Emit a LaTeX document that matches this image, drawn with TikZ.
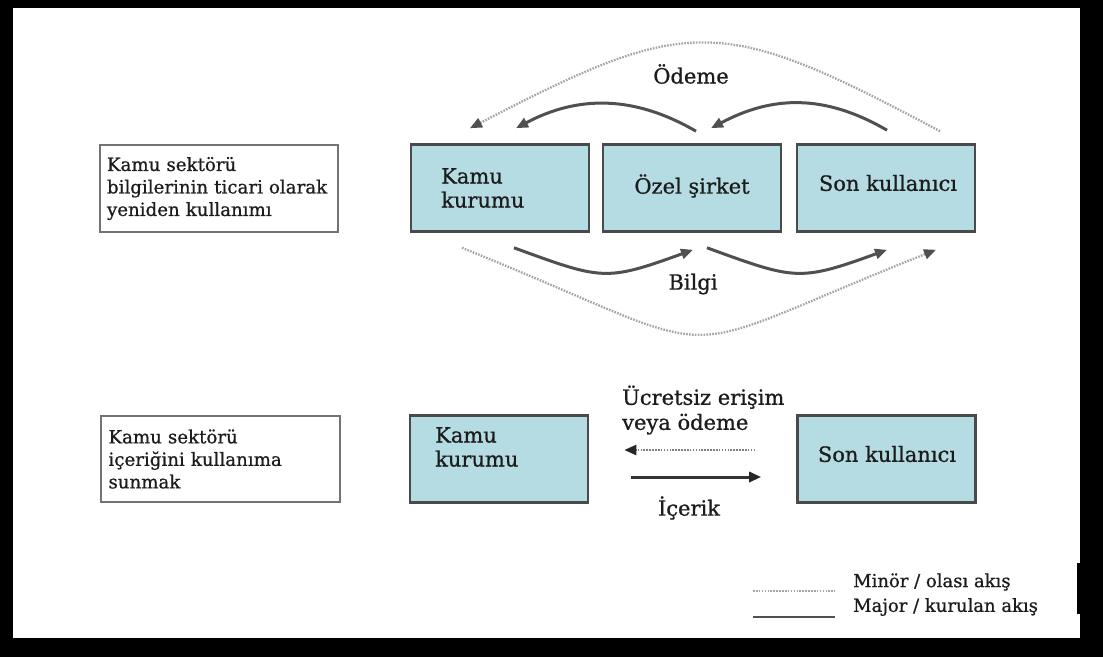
\documentclass[tikz,border=0pt]{standalone}
\usepackage{fontspec}
\setmainfont{DejaVu Serif}[FakeBold=0.8]
\usetikzlibrary{arrows.meta,calc}

\definecolor{boxfill}{HTML}{B5DCE2}
\definecolor{boxline}{HTML}{4A4A4A}
\definecolor{infoline}{HTML}{737373}
\definecolor{major}{HTML}{505050}
\definecolor{minor}{HTML}{A4A4A4}
\definecolor{ink}{HTML}{1C1C1C}

\begin{document}
\begin{tikzpicture}[x=1pt,y=-1pt,
  flowbox/.style={draw=boxline, fill=boxfill, line width=2.6pt,
    minimum width=178pt, minimum height=87pt, inner sep=0pt},
  infobox/.style={draw=infoline, fill=white, line width=2pt, align=left,
    inner xsep=7pt, inner ysep=0pt, text=ink,
    font=\fontsize{18.2}{22.5}\selectfont},
  boxlabel/.style={text=ink, inner sep=0pt, font=\fontsize{21}{24}\selectfont},
  flowlabel/.style={text=ink, inner sep=0pt, font=\fontsize{21}{25}\selectfont},
  legendlabel/.style={text=ink, inner sep=0pt, anchor=west,
    font=\fontsize{18}{22}\selectfont},
  head/.style={-{Triangle[length=12pt,width=10pt,color=#1]}},
  majorflow/.style={draw=major, line width=3pt, head=major},
  minorflow/.style={draw=minor, line width=2.3pt,
    dash pattern=on 1.6pt off 1.3pt, head=major},
  directflow/.style={draw=black!80, line width=3pt, head=black!85},
  optionflow/.style={draw=black!50, line width=2.3pt,
    dash pattern=on 1.6pt off 1.3pt, head=black!85},
  majorline/.style={draw=major, line width=2.5pt},
  minorline/.style={draw=minor, line width=2.2pt, dash pattern=on 1.6pt off 1.3pt}]

\useasboundingbox (0,0) rectangle (1103,657);
% black frame around the sheet
\fill[black] (0,0) rectangle (1103,657);
\fill[white] (13,8) rectangle (1080,638);
\fill[black] (1077,563) rectangle (1080,614);

% ---------- commercial re-use of public sector information ----------
\node[infobox, text width=224pt, minimum height=87pt] (info1) at (219,188.5)
  {Kamu sektörü\\bilgilerinin ticari olarak\\yeniden kullanımı};

\node[flowbox] (k1) at (500,188) {};
\node[flowbox] (oz) at (692,188) {};
\node[flowbox] (s1) at (886,188) {};
\node[boxlabel, anchor=west, align=left] (k1l) at (441,188) {Kamu\\kurumu};
\node[boxlabel] (ozl) at (692,186) {Özel şirket};
\node[boxlabel] (s1l) at (888,183) {Son kullanıcı};

% payment flows (right to left, above the boxes)
\draw[minorflow] ([xshift=54pt,yshift=12pt]s1.north)
  .. controls +(-220,-117) and +(220,-114) .. ([xshift=-30pt,yshift=15pt]k1.north);
\draw[majorflow] ([xshift=1pt,yshift=13pt]s1.north)
  .. controls +(-62,-36) and +(62,-33) .. ([xshift=19pt,yshift=15pt]oz.north);
\draw[majorflow] ([xshift=4pt,yshift=12pt]oz.north)
  .. controls +(-62,-36) and +(62,-33) .. ([xshift=16pt,yshift=15pt]k1.north);
\node[flowlabel] (odeme) at (691,74) {Ödeme};

% information flows (left to right, below the boxes)
\draw[minorflow] ([xshift=-38pt,yshift=-15pt]k1.south)
  .. controls +(285,115) and +(-285,113) .. ([xshift=50pt,yshift=-17pt]s1.south);
\draw[majorflow] ([xshift=14pt,yshift=-15pt]k1.south)
  .. controls +(88,32) and +(-88,32) .. ([xshift=1pt,yshift=-17pt]oz.south);
\draw[majorflow] ([xshift=15pt,yshift=-15pt]oz.south)
  .. controls +(88,32) and +(-88,32) .. ([xshift=1pt,yshift=-17pt]s1.south);
\node[flowlabel] (bilgi) at (693,284) {Bilgi};

% ---------- making public sector content available ----------
\node[infobox, text width=223pt, minimum height=86pt, inner xsep=8pt] (info2) at (220,459)
  {Kamu sektörü\\içeriğini kullanıma\\sunmak};

\node[flowbox] (k2) at (499,459) {};
\node[flowbox] (s2) at (886.5,459) {};
\node[boxlabel, anchor=west, align=left] (k2l) at (435,447) {Kamu\\kurumu};
\node[boxlabel] (s2l) at (887,454) {Son kullanıcı};

\draw[optionflow] ([xshift=-41pt,yshift=9pt]s2.west) -- ([xshift=35pt,yshift=9pt]k2.east);
\draw[directflow] ([xshift=42pt,yshift=-18pt]k2.east) -- ([xshift=-35pt,yshift=-18pt]s2.west);
\node[flowlabel, anchor=west, align=left] (ucret) at (622,410) {Ücretsiz erişim\\veya ödeme};
\node[flowlabel] (icerik) at (689,508) {İçerik};

% ---------- legend ----------
\coordinate (m1) at (753,591);
\coordinate (m2) at (835,591);
\coordinate (j1) at (753,617);
\coordinate (j2) at (835,617);
\draw[minorline] (m1) -- (m2);
\draw[majorline] (j1) -- (j2);
\node[legendlabel] (minor) at (853,582) {Minör / olası akış};
\node[legendlabel] (majorl) at (853,607) {Major / kurulan akış};
\end{tikzpicture}
\end{document}
